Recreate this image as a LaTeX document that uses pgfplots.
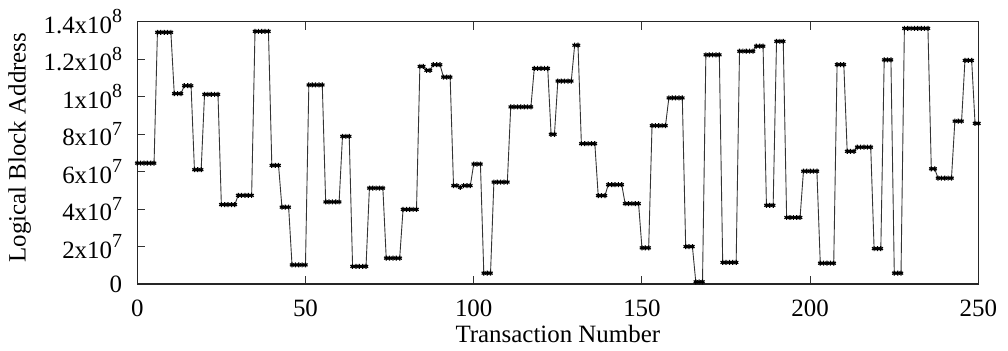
\documentclass[border=0pt]{standalone}
\usepackage{fontspec}
\setmainfont{Liberation Serif}
\usepackage{pgfplots}
\pgfplotsset{compat=1.18}
\usepackage{pgfplotstable}
\newcommand{\ex}[1]{\raisebox{0.42em}{\fontsize{20pt}{20pt}\selectfont #1}}
\pgfplotstableread{
x y
0 6.45
1 6.45
2 6.45
3 6.45
4 6.45
5 6.45
6 13.43
7 13.43
8 13.43
9 13.43
10 13.43
11 10.16
12 10.16
13 10.16
14 10.58
15 10.58
16 10.58
17 6.10
18 6.10
19 6.10
20 10.12
21 10.12
22 10.12
23 10.12
24 10.12
25 4.24
26 4.24
27 4.24
28 4.24
29 4.24
30 4.73
31 4.73
32 4.73
33 4.73
34 4.73
35 13.48
36 13.48
37 13.48
38 13.48
39 13.48
40 6.33
41 6.33
42 6.33
43 4.10
44 4.10
45 4.10
46 1.02
47 1.02
48 1.02
49 1.02
50 1.02
51 10.62
52 10.62
53 10.62
54 10.62
55 10.62
56 4.38
57 4.38
58 4.38
59 4.38
60 4.38
61 7.88
62 7.88
63 7.88
64 0.94
65 0.94
66 0.94
67 0.94
68 0.94
69 5.12
70 5.12
71 5.12
72 5.12
73 5.12
74 1.38
75 1.38
76 1.38
77 1.38
78 1.38
79 3.98
80 3.98
81 3.98
82 3.98
83 3.98
84 11.61
85 11.61
86 11.40
87 11.40
88 11.70
89 11.70
90 11.70
91 11.04
92 11.04
93 11.04
94 5.25
95 5.25
96 5.16
97 5.25
98 5.25
99 5.25
100 6.40
101 6.40
102 6.40
103 0.58
104 0.58
105 0.58
106 5.44
107 5.44
108 5.44
109 5.44
110 5.44
111 9.45
112 9.45
113 9.45
114 9.45
115 9.45
116 9.45
117 9.45
118 11.50
119 11.50
120 11.50
121 11.50
122 11.50
123 7.99
124 7.99
125 10.83
126 10.83
127 10.83
128 10.83
129 10.83
130 12.74
131 12.74
132 7.49
133 7.49
134 7.49
135 7.49
136 7.49
137 4.72
138 4.72
139 4.72
140 5.30
141 5.30
142 5.30
143 5.30
144 5.30
145 4.29
146 4.29
147 4.29
148 4.29
149 4.29
150 1.93
151 1.93
152 1.93
153 8.45
154 8.45
155 8.45
156 8.45
157 8.45
158 9.93
159 9.93
160 9.93
161 9.93
162 9.93
163 2.00
164 2.00
165 2.00
166 0.12
167 0.12
168 0.12
169 12.23
170 12.23
171 12.23
172 12.23
173 12.23
174 1.15
175 1.15
176 1.15
177 1.15
178 1.15
179 12.42
180 12.42
181 12.42
182 12.42
183 12.42
184 12.69
185 12.69
186 12.69
187 4.20
188 4.20
189 4.20
190 12.95
191 12.95
192 12.95
193 3.55
194 3.55
195 3.55
196 3.55
197 3.55
198 6.02
199 6.02
200 6.02
201 6.02
202 6.02
203 1.11
204 1.11
205 1.11
206 1.11
207 1.11
208 11.71
209 11.71
210 11.71
211 7.08
212 7.08
213 7.08
214 7.30
215 7.30
216 7.30
217 7.30
218 7.30
219 1.89
220 1.89
221 1.89
222 11.96
223 11.96
224 11.96
225 0.58
226 0.58
227 0.58
228 13.64
229 13.64
230 13.64
231 13.64
232 13.64
233 13.64
234 13.64
235 13.64
236 6.15
237 6.15
238 5.65
239 5.65
240 5.65
241 5.65
242 5.65
243 8.69
244 8.69
245 8.69
246 11.93
247 11.93
248 11.93
249 8.57
250 8.57
}\lba
\begin{document}
\fontsize{25pt}{30pt}\selectfont
\begin{tikzpicture}
\begin{axis}[
  name=ax,
  scale only axis,
  width=844pt, height=263.3pt,
  xmin=0, xmax=250, ymin=0, ymax=14,
  clip=false,
  axis line style={line width=1.3pt, black!85},
  xtick={0,50,100,150,200,250},
  xticklabels={0,50,100,150,200,250},
  ytick={0,2,4,6,8,10,12,14},
  yticklabels={0,2x10\ex{7},4x10\ex{7},6x10\ex{7},8x10\ex{7},1x10\ex{8},1.2x10\ex{8},1.4x10\ex{8}},
  xtick pos=both, ytick pos=left,
  tick align=inside,
  major tick length=8pt,
  tick style={line width=1pt, black!80},
  xticklabel style={font=\fontsize{25pt}{30pt}\selectfont, inner sep=0pt, anchor=north, yshift=-16pt},
  yticklabel style={font=\fontsize{25pt}{30pt}\selectfont, inner sep=0pt, anchor=east, xshift=-15pt},
  xlabel={Transaction Number},
  ylabel={Logical Block Address},
  xlabel style={font=\fontsize{25pt}{30pt}\selectfont, at={(axis description cs:0.5,0)}, anchor=center, yshift=-50pt},
  ylabel style={font=\fontsize{25pt}{30pt}\selectfont, at={(axis description cs:0,0.52)}, anchor=center, rotate=0, yshift=118pt},
]
\addplot[line width=0.9pt, black!80, mark=asterisk, mark size=2.5pt, mark options={black, line width=1.2pt}] table[x=x,y=y] {\lba};
\end{axis}
\path (ax.south west) ++(-134.3pt,-65pt) coordinate (bl);
\path (ax.north east) ++(29.7pt,21.7pt) coordinate (tr);
\path (bl) rectangle (tr);
\end{tikzpicture}
\end{document}
